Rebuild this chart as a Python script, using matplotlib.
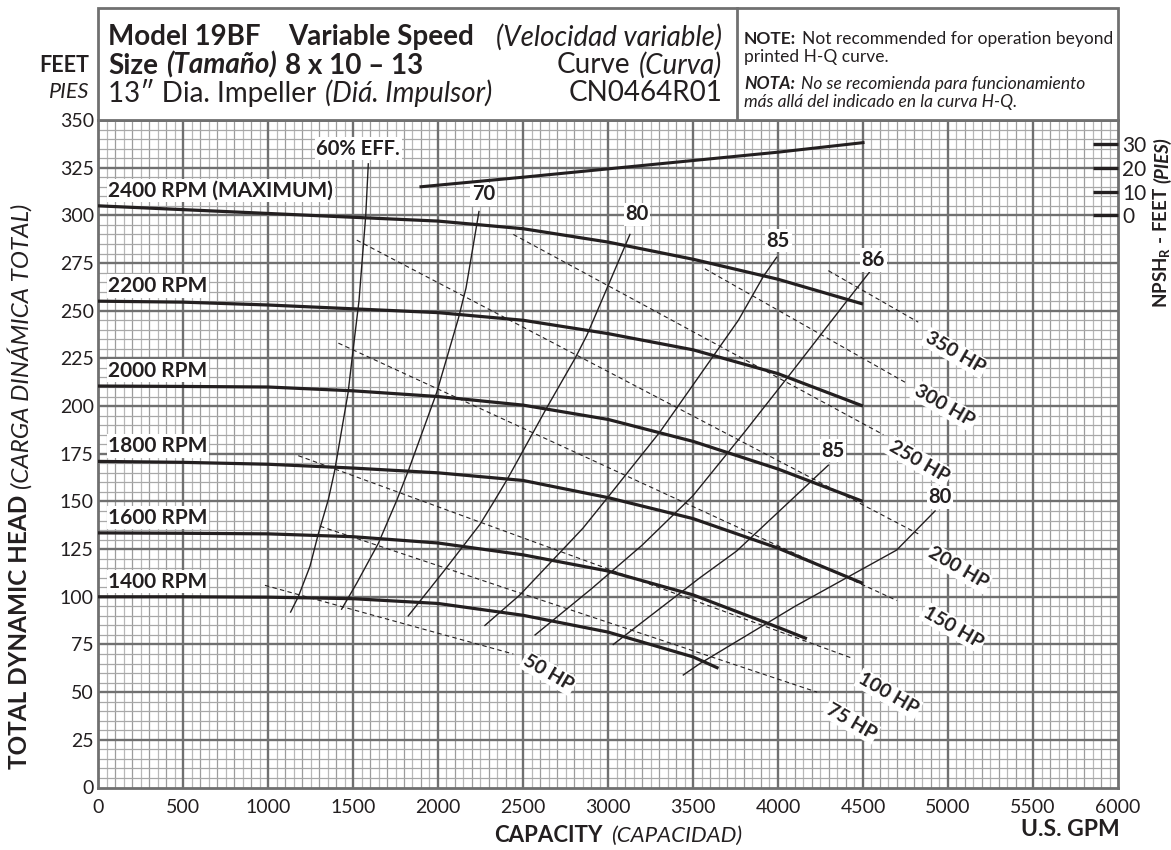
import numpy as np
import matplotlib.pyplot as plt
from matplotlib.patches import Rectangle
from matplotlib.offsetbox import TextArea, HPacker, AnnotationBbox

plt.rcParams['font.family'] = ['Lato', 'DejaVu Sans']
plt.rcParams['mathtext.fontset'] = 'custom'
plt.rcParams['mathtext.rm'] = 'Lato'
plt.rcParams['mathtext.bf'] = 'Lato:bold'
plt.rcParams['mathtext.it'] = 'Lato:italic'

W, H = 1171, 850
INK = '#231f20'

# head-capacity curves (U.S. GPM, feet)
q_full = [0, 500, 1000, 1500, 2000, 2500, 3000, 3500, 4000, 4500]
h_2400 = [305, 303, 301, 299, 297, 293, 286, 277, 266.5, 253.5]
h_2200 = [255, 254.5, 253, 251, 249, 245, 238, 229.5, 217, 200]
h_2000 = [210.5, 210.3, 210, 208, 205, 200.5, 193, 181.5, 167, 150]
h_1800 = [171, 170.5, 169.5, 167.5, 165, 161, 152, 141, 125.5, 107]
q_1600 = [0, 500, 1000, 1500, 2000, 2500, 3000, 3500, 4000, 4170]
h_1600 = [133.5, 133.3, 133, 131.5, 128.2, 122, 113.5, 101, 84, 78]
q_1400 = [0, 500, 1000, 1500, 2000, 2500, 3000, 3500, 3650]
h_1400 = [100, 100, 99.8, 99, 96.5, 90.3, 81.5, 68.5, 62.5]
rpm_names = ['2400 RPM (MAXIMUM)', '2200 RPM', '2000 RPM', '1800 RPM', '1600 RPM', '1400 RPM']

# efficiency lines
q_e60 = [1133, 1178, 1247, 1296, 1355, 1392, 1471, 1500, 1535, 1575, 1590]
h_e60 = [92, 100, 116, 133, 151, 166, 207, 229, 255, 300, 327]
q_e70 = [1433, 1521, 1649, 1757, 1825, 1992, 2120, 2165, 2241]
h_e70 = [93.5, 107, 128, 150.5, 166, 207, 246, 262, 302]
q_e80 = [1825, 2039, 2247, 2333, 2410, 2639, 2806, 2875, 3000, 3129]
h_e80 = [90, 114, 138, 150.5, 162, 199, 225, 237, 263, 290]
q_e85 = [2276, 2482, 2853, 3002, 3306, 3531, 3767, 3914, 3992]
h_e85 = [85, 101, 136, 152.5, 186.5, 215, 245, 268, 278]
q_e86 = [2571, 2900, 3200, 3500, 3800, 4100, 4404, 4545]
h_e86 = [80, 104, 127, 153, 186, 220, 255, 271]
q_e85b = [3031, 3541, 3757, 4296]
h_e85b = [75, 110, 124, 169]
q_e80b = [3443, 3541, 4100, 4698, 4924]
h_e80b = [59, 65, 95, 124.5, 145]
eff_names = ['60% EFF.', '70', '80', '85', '86', '85', '80']
eff_label_q = [1530, 2267, 3172, 4002, 4561, 4325, 4953]
eff_label_h = [335, 311, 300.5, 286.7, 276.6, 176.6, 152.2]

# constant power lines
hp_names = ['350 HP', '300 HP', '250 HP', '200 HP', '150 HP', '100 HP', '75 HP', '50 HP']
hp_q = [(4296, 4825), (3570, 4757), (2443, 4620), (1522, 4825),
        (1414, 4700), (1178, 4430), (1306, 4230), (982, 2443)]
hp_h = [(271, 244), (272, 212), (290, 185), (287, 133),
        (233, 98), (174, 68), (137, 50), (106, 70)]
hp_label_q = [5040, 4980, 4830, 5060, 5030, 4650, 4430, 2650]
hp_label_h = [228, 200, 171, 115, 84, 49, 34.6, 60]

# NPSH required
q_npsh = [1900, 2500, 3000, 3500, 4000, 4500]
npsh = [12, 16, 19.5, 23, 26.5, 30.5]


def fpos(x, y):
    return x / W, 1 - y / H


def line_of_text(fig, parts, x, y, align=0, sep=6):
    boxes = [TextArea(s, textprops=dict(color=INK, **p)) for s, p in parts]
    pack = HPacker(children=boxes, align='baseline', pad=0, sep=sep)
    ab = AnnotationBbox(pack, fpos(x, y), xycoords='figure fraction',
                        box_alignment=(align, 0.5), frameon=False, pad=0)
    fig.add_artist(ab)


B = dict(fontweight='bold')
I = dict(fontstyle='italic')
BI = dict(fontweight='bold', fontstyle='italic')
HB = dict(fontsize=20, **B)
HR = dict(fontsize=20)
HI = dict(fontsize=20, **I)
NS = 12.5

fig = plt.figure(figsize=(W / 100, H / 100), dpi=100)
ax = fig.add_axes([98 / W, 1 - 787.5 / H, 1020 / W, 667.5 / H])
ax.set_xlim(0, 6000)
ax.set_ylim(0, 350)

# graph paper
for x in np.arange(50, 6000, 50):
    if x % 500:
        ax.axvline(x, color='#9c9c9c' if x % 100 == 0 else '#b8b8b8', lw=0.9, zorder=0.5)
for y in np.arange(5, 350, 5):
    if y % 25:
        ax.axhline(y, color='#a8a8a8', lw=0.9, zorder=0.5)
for x in np.arange(500, 6000, 500):
    ax.axvline(x, color='#707070', lw=1.7, zorder=0.6)
for y in np.arange(25, 350, 25):
    ax.axhline(y, color='#707070', lw=1.7, zorder=0.6)
for s in ax.spines.values():
    s.set_color('#707070')
    s.set_linewidth(2)

ax.set_xticks(np.arange(0, 6001, 500))
ax.set_yticks(np.arange(0, 351, 25))
ax.tick_params(axis='both', length=0, labelsize=14, labelcolor=INK)
ax.tick_params(axis='x', pad=8)
ax.tick_params(axis='y', pad=3)

# power lines
for q, h in zip(hp_q, hp_h):
    ax.plot(q, h, color=INK, lw=0.8, ls=(0, (4, 3)), zorder=1)
for name, q, h in zip(hp_names, hp_label_q, hp_label_h):
    ax.text(q, h, name, rotation=-30, ha='center', va='center', fontsize=14,
            fontweight='bold', color=INK, zorder=5,
            bbox=dict(facecolor='white', edgecolor='none', pad=1.2))

# efficiency lines
for q, h in [(q_e60, h_e60), (q_e70, h_e70), (q_e80, h_e80), (q_e85, h_e85),
             (q_e86, h_e86), (q_e85b, h_e85b), (q_e80b, h_e80b)]:
    ax.plot(q, h, color=INK, lw=1.0, zorder=2)
for name, q, h in zip(eff_names, eff_label_q, eff_label_h):
    ax.text(q, h, name, ha='center', va='center', fontsize=14.5, fontweight='bold',
            color=INK, zorder=5, bbox=dict(facecolor='white', edgecolor='none', pad=1.2))

# head curves
curves = [(q_full, h_2400), (q_full, h_2200), (q_full, h_2000), (q_full, h_1800),
          (q_1600, h_1600), (q_1400, h_1400)]
for name, (q, h) in zip(rpm_names, curves):
    ax.plot(q, h, color=INK, lw=2.3, zorder=3, solid_capstyle='butt')
    ax.text(60, h[0] + 8, name, ha='left', va='center', fontsize=15, fontweight='bold',
            color=INK, zorder=5, bbox=dict(facecolor='white', edgecolor='none', pad=1.2))

# NPSH scale on the right
ax2 = ax.twinx()
ax2.set_ylim((0 - 300) * 0.8, (350 - 300) * 0.8)
ax2.set_yticks([0, 10, 20, 30])
ax2.tick_params(axis='y', direction='in', length=18, width=2.4, color=INK,
                labelsize=15, pad=3, labelcolor=INK)
for s in ax2.spines.values():
    s.set_visible(False)
ax2.plot(q_npsh, npsh, color=INK, lw=2.2)

# header box
fig.add_artist(Rectangle(fpos(98, 120), 1020 / W, 112 / H, transform=fig.transFigure,
                         facecolor='white', edgecolor='#707070', lw=2))
fig.add_artist(plt.Line2D([737 / W] * 2, [1 - 8 / H, 1 - 120 / H], transform=fig.transFigure,
                          color='#707070', lw=2))

line_of_text(fig, [('Model 19BF', HB)], 108, 37)
line_of_text(fig, [('Variable Speed', HB)], 288, 37)
line_of_text(fig, [('(Velocidad variable)', HI)], 722, 37, align=1)
line_of_text(fig, [('Size', HB), ('(Tamaño)', dict(fontsize=20, **BI)),
                   ('8 x 10 – 13', HB)], 108, 65)
line_of_text(fig, [('Curve', HR), ('(Curva)', HI)], 722, 65, align=1)
line_of_text(fig, [('13″ Dia. Impeller', HR), ('(Diá. Impulsor)', HI)], 108, 93)
line_of_text(fig, [('CN0464R01', HR)], 722, 93, align=1)

line_of_text(fig, [('NOTE:', dict(fontsize=NS, **B)),
                   ('Not recommended for operation beyond', dict(fontsize=NS))],
             744, 39, sep=4)
line_of_text(fig, [('printed H-Q curve.', dict(fontsize=NS))], 744, 57)
line_of_text(fig, [('NOTA:', dict(fontsize=NS, **BI)),
                   ('No se recomienda para funcionamiento', dict(fontsize=NS, **I))],
             744, 84, sep=4)
line_of_text(fig, [('más allá del indicado en la curva H-Q.', dict(fontsize=NS, **I))], 744, 102)

fig.text(*fpos(89, 65), 'FEET', ha='right', va='center', fontsize=15.5, color=INK, **B)
fig.text(*fpos(89, 92), 'PIES', ha='right', va='center', fontsize=15.5, color=INK, **I)

# axis titles
fig.text(*fpos(20, 495), 'TOTAL DYNAMIC HEAD', rotation=90, rotation_mode='anchor',
         ha='right', va='center', fontsize=17.5, color=INK, **B)
fig.text(*fpos(20, 489), '(CARGA DINÁMICA TOTAL)', rotation=90, rotation_mode='anchor',
         ha='left', va='center', fontsize=17.5, color=INK, **I)
fig.text(*fpos(1162, 187), r'NPSH$_\mathbf{R}$ - FEET', rotation=90, rotation_mode='anchor',
         ha='right', va='center', fontsize=13.5, color=INK, **B)
fig.text(*fpos(1162, 183), '(PIES)', rotation=90, rotation_mode='anchor',
         ha='left', va='center', fontsize=13.5, color=INK, **BI)
line_of_text(fig, [('CAPACITY', dict(fontsize=16, **B)), ('(CAPACIDAD)', dict(fontsize=16, **I))],
             618, 835, align=0.5)
fig.text(*fpos(1120, 830), 'U.S. GPM', ha='right', va='center', fontsize=16.5, color=INK, **B)

fig.savefig('out.png', dpi=100)
